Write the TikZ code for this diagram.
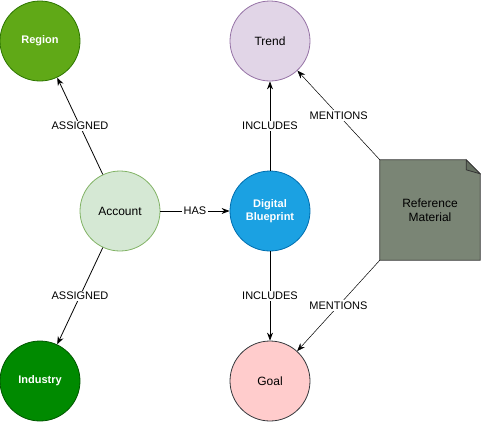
\documentclass[tikz,border=0pt]{standalone}
\usepackage{fontspec}
\setmainfont{Liberation Sans}
\usetikzlibrary{arrows.meta,backgrounds}
\definecolor{regiongreen}{HTML}{60A917}
\definecolor{regionline}{HTML}{2D7600}
\definecolor{trendlilac}{HTML}{E1D5E7}
\definecolor{trendline}{HTML}{9673A6}
\definecolor{accountgreen}{HTML}{D5E8D4}
\definecolor{accountline}{HTML}{82B366}
\definecolor{blueprintblue}{HTML}{1BA1E2}
\definecolor{blueprintline}{HTML}{006EAF}
\definecolor{industrygreen}{HTML}{008A00}
\definecolor{industryline}{HTML}{005700}
\definecolor{goalpink}{HTML}{FFCCCC}
\definecolor{goalline}{HTML}{36393D}
\definecolor{notegray}{RGB}{122,133,117}
\definecolor{foldgray}{RGB}{100,110,96}
\tikzset{
  flow/.style={-{Stealth[length=8pt,width=6pt]},line width=0.8pt},
  entity/.style={circle,draw,line width=0.8pt,minimum size=80pt,inner sep=0pt,
                 align=center,font=\fontsize{12}{14}\selectfont},
  strong/.style={entity,text=white,font=\fontsize{11}{13.5}\selectfont\bfseries},
  refnote/.style={minimum width=100pt,minimum height=100pt,inner sep=0pt,
                  align=center,font=\fontsize{12}{14}\selectfont},
  rel/.style={midway,fill=white,inner sep=1.5pt,font=\fontsize{11}{13}\selectfont},
}
\begin{document}
\begin{tikzpicture}[x=1pt,y=-1pt]
  \path[use as bounding box] (0,0) rectangle (481,421);

  \node[strong,fill=regiongreen,draw=regionline] (REG) at (40,41) {Region};
  \node[entity,fill=trendlilac,draw=trendline] (TRD) at (270,41) {Trend};
  \node[entity,fill=accountgreen,draw=accountline] (ACC) at (120,211) {Account};
  \node[strong,fill=blueprintblue,draw=blueprintline] (DBP) at (270,211) {Digital\\Blueprint};
  \node[strong,fill=industrygreen,draw=industryline] (IND) at (40,381) {Industry};
  \node[entity,fill=goalpink,draw=goalline] (GOAL) at (270,381) {Goal};
  \node[refnote] (REF) at (430,210) {Reference\\Material};
  \begin{scope}[on background layer]
    \filldraw[fill=notegray,draw=black!80,line width=0.8pt]
      (REF.south west) -- (REF.north west) -- ([xshift=-14pt]REF.north east)
      -- ([yshift=-14pt]REF.north east) -- (REF.south east) -- cycle;
    \filldraw[fill=foldgray,draw=black!80,line width=0.8pt]
      ([xshift=-14pt]REF.north east) -- ([xshift=-14pt,yshift=-10pt]REF.north east)
      -- ([yshift=-14pt]REF.north east) -- cycle;
  \end{scope}

  \draw[flow] (ACC) -- (REG) node[rel] {ASSIGNED};
  \draw[flow] (ACC) -- (IND) node[rel] {ASSIGNED};
  \draw[flow] (ACC) -- (DBP) node[rel] {HAS};
  \draw[flow] (DBP) -- (TRD) node[rel] {INCLUDES};
  \draw[flow] (DBP) -- (GOAL) node[rel] {INCLUDES};
  \draw[flow,line width=0.5pt] (REF.north west) -- (TRD) node[rel] {MENTIONS};
  \draw[flow,line width=0.5pt] (REF.south west) -- (GOAL) node[rel] {MENTIONS};
\end{tikzpicture}
\end{document}
